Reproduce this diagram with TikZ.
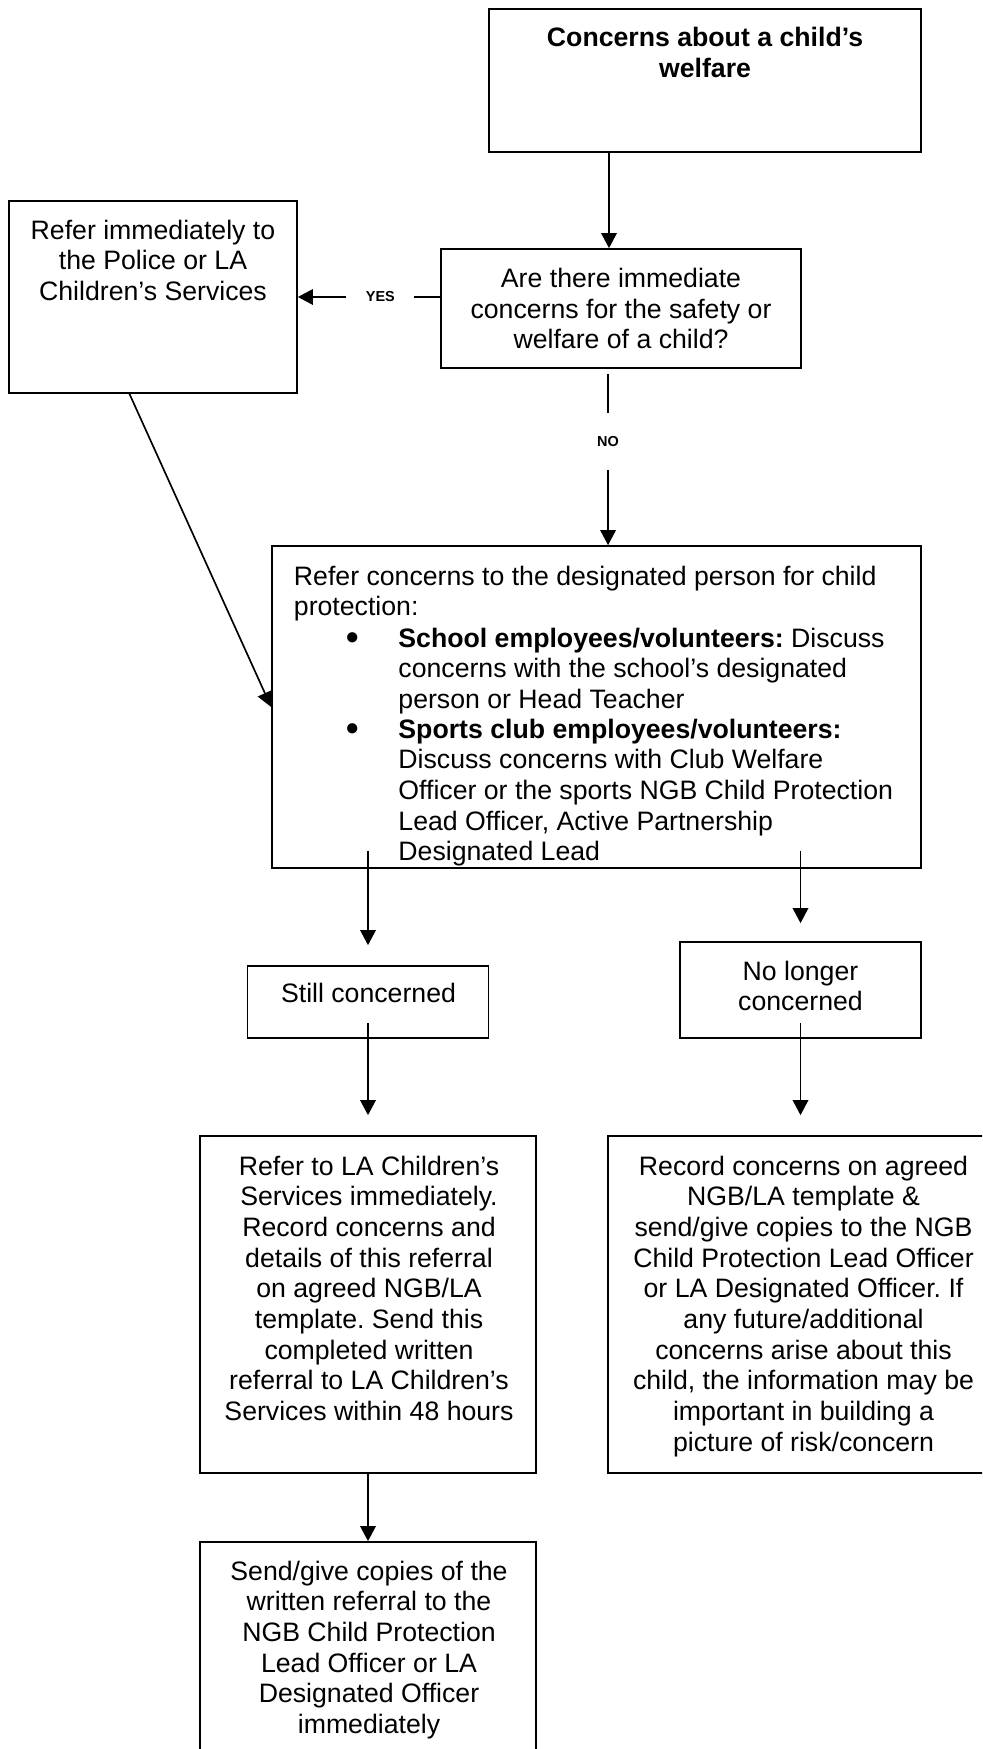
\documentclass[tikz,border=0pt]{standalone}
\usepackage{fontspec}
\setmainfont{Liberation Sans}
\usetikzlibrary{arrows.meta}
\frenchspacing

\tikzset{
  box/.style={draw, line width=0.75pt, rectangle, inner sep=0pt},
  txt/.style={inner sep=0pt, align=center, font=\fontsize{12}{13.8}\selectfont},
  bul/.style={inner sep=0pt, font=\fontsize{16}{16}\selectfont\bfseries},
  lbl/.style={fill=white, inner sep=0pt, font=\fontsize{6.5}{7}\selectfont\bfseries},
  arr/.style={line width=0.75pt, -{Triangle[length=6.8pt,width=7pt]}},
}

\begin{document}
\begin{tikzpicture}[x=0.45pt, y=-0.45pt]
    \useasboundingbox (0,0) rectangle (982,1749);
    \clip (0,0) rectangle (982,1749);

    % Boxes
    \node[box, minimum width=194.4pt, minimum height=64.35pt] (top) at (705,80.5) {};
    \node[box, txt, minimum width=162pt, minimum height=53.55pt] (quest) at (621,308.5)
        {Are there immediate\\concerns for the safety or\\welfare of a child?};
    \node[box, minimum width=129.6pt, minimum height=86.4pt] (left) at (153,297) {};
    \node[box, minimum width=292.05pt, minimum height=144.9pt] (big) at (596.5,707) {};
    \node[box, minimum width=108.45pt, minimum height=32.4pt] (still) at (368,1002) {};
    \node[box, minimum width=108.45pt, minimum height=43.2pt] (nolonger) at (800.5,990) {};
    \node[box, minimum width=151.2pt, minimum height=151.65pt] (la) at (368,1304.5) {};
    \node[box, minimum width=176.4pt, minimum height=151.65pt] (record) at (804,1304.5) {};
    \node[box, minimum width=151.2pt, minimum height=116.1pt] (send) at (368,1671) {};

    % Box texts
    \node[txt, anchor=north, font=\fontsize{12}{13.8}\selectfont\bfseries] (topTxt) at (705,27)
        {Concerns about a child’s\\welfare};
    \node[txt, anchor=north] (leftTxt) at (153,219.5)
        {Refer immediately to\\the Police or LA\\Children’s Services};
    \node[txt, anchor=north west, align=left] (bigTxt) at (293.5,565.5)
        {Refer concerns to the designated person for child\\protection:};
    \node[bul] (bulA) at (353,641.5) {\textbullet};
    \node[txt, anchor=north west, align=left] (itemA) at (398,627.5)
        {\textbf{School employees/volunteers:} Discuss\\concerns with the school’s designated\\person or Head Teacher};
    \node[bul] (bulB) at (353,732.5) {\textbullet};
    \node[txt, anchor=north west, align=left] (itemB) at (398,718.5)
        {\textbf{Sports club employees/volunteers:}\\Discuss concerns with Club Welfare\\Officer or the sports NGB Child Protection\\Lead Officer, Active Partnership\\Designated Lead};
    \node[txt] (stillTxt) at (368.5,993) {Still concerned};
    \node[txt, anchor=north] (nolongerTxt) at (800.5,960.5) {No longer\\concerned};
    \node[txt, anchor=north] (laTxt) at (369,1155.5)
        {Refer to LA Children’s\\Services immediately.\\Record concerns and\\details of this referral\\on agreed NGB/LA\\template. Send this\\completed written\\referral to LA Children’s\\Services within 48 hours};
    \node[txt, anchor=north] (recordTxt) at (803.5,1155.5)
        {Record concerns on agreed\\NGB/LA template \&\\send/give copies to the NGB\\Child Protection Lead Officer\\or LA Designated Officer. If\\any future/additional\\concerns arise about this\\child, the information may be\\important in building a\\picture of risk/concern};
    \node[txt, anchor=north] (sendTxt) at (369,1560.5)
        {Send/give copies of the\\written referral to the\\NGB Child Protection\\Lead Officer or LA\\Designated Officer\\immediately};

    % Connectors
    \draw[arr] ([xshift=-5.4pt]quest.north |- top.south) -- ([xshift=-5.4pt]quest.north);
    \draw[arr] (left.east -| quest.west) -- node[lbl, pos=0.42, inner xsep=8.8pt] {YES} (left.east);
    \draw[arr, shorten <=2.2pt] ([xshift=5.2pt]big.north |- quest.south)
        -- node[lbl, pos=0.41, inner ysep=10.5pt, inner xsep=2pt] {NO} ([xshift=5.2pt]big.north);
    \draw[arr] ([xshift=-10.6pt]left.south) -- (big.west);
    \draw[arr, shorten <=-8.1pt, shorten >=9pt] (big.south -| still.north) -- (still.north);
    \draw[arr, shorten <=-8.1pt, shorten >=8.1pt] (big.south -| nolonger.north) -- (nolonger.north);
    \draw[arr, shorten <=-7.2pt, shorten >=9pt] (still.south) -- (still.south |- la.north);
    \draw[arr, shorten <=-7.2pt, shorten >=9pt] (nolonger.south) -- (nolonger.south |- record.north);
    \draw[arr] (la.south) -- (send.north);
\end{tikzpicture}
\end{document}
